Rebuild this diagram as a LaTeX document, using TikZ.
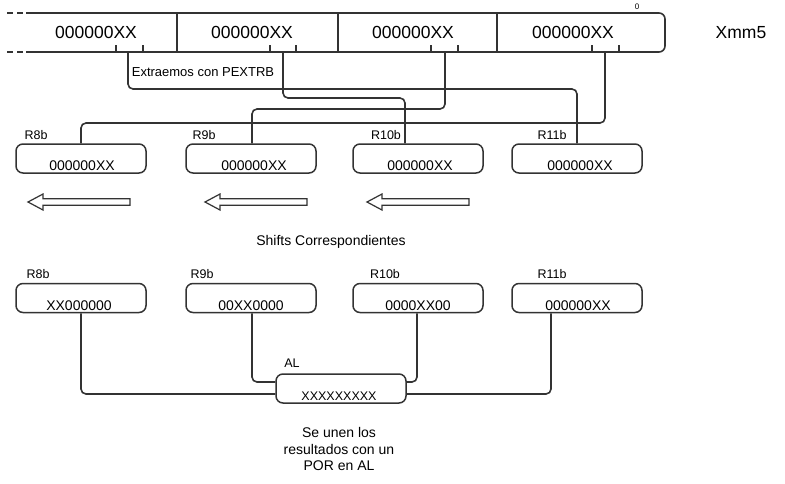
\documentclass[tikz,border=0pt]{standalone}
\usepackage{fontspec}
\setmainfont{Liberation Sans}
\usetikzlibrary{calc}
\definecolor{ink}{HTML}{333333}
\begin{document}
\begin{tikzpicture}[x=1pt,y=-1pt,
  conn/.style={draw=ink,line width=1.6pt,rounded corners=5pt},
  reg/.style={draw=ink,line width=1.6pt},
  regbox/.style={draw=ink,line width=1.5pt,rounded corners=7pt,minimum width=130pt,minimum height=29pt,inner sep=0pt},
  boxtxt/.style={font=\fontsize{14}{16}\selectfont,inner sep=0pt},
  celltxt/.style={font=\fontsize{17.5}{20}\selectfont,inner sep=0pt},
  lab/.style={font=\fontsize{12.5}{14}\selectfont,inner sep=0pt},
  note/.style={font=\fontsize{14}{16.5}\selectfont,inner sep=0pt,align=center},
  shiftarrow/.pic={\draw[draw=ink,line width=1.2pt,fill=white] (0,0) -- (15,-8) -- (15,-3.3) -- (102,-3.3) -- (102,3.3) -- (15,3.3) -- (15,8) -- cycle;},
]
\useasboundingbox (0,0) rectangle (785,483);
% Xmm5 register
\draw[reg,dash pattern=on 6pt off 4pt] (7,13) -- (23,13);
\draw[reg,dash pattern=on 6pt off 4pt] (7,52) -- (23,52);
\draw[reg,rounded corners=6pt] (26,13) -- (665,13) -- (665,52) -- (26,52);
\foreach \xx in {177,338,497} \draw[reg,line width=1.4pt] (\xx,13) -- (\xx,52);
\foreach \xx in {116,143,270,296,431,458,592,619} \draw[reg,line width=1.2pt] (\xx,45) -- (\xx,52);
\node[celltxt] (c1) at (96,32) {000000XX};
\node[celltxt] (c2) at (252,32) {000000XX};
\node[celltxt] (c3) at (413,32) {000000XX};
\node[celltxt] (c4) at (573,32) {000000XX};
\node[font=\fontsize{8}{9}\selectfont,inner sep=0pt] (zero) at (637,7) {0};
\node[celltxt] (xmm) at (741,33) {Xmm5};
\coordinate (p1) at (128,52);
\coordinate (p2) at (283,52);
\coordinate (p3) at (445,52);
\coordinate (p4) at (605,52);
\node[font=\fontsize{13}{15}\selectfont,inner sep=0pt] (ext) at (203,72) {Extraemos con PEXTRB};
% row 1 registers
\node[regbox,label={[boxtxt,xshift=1pt,yshift=-7.5pt]center:000000XX}] (a8) at (81,158.5) {};
\node[regbox,label={[boxtxt,xshift=3pt,yshift=-7.5pt]center:000000XX}] (a9) at (251,158.5) {};
\node[regbox,label={[boxtxt,xshift=2pt,yshift=-7.5pt]center:000000XX}] (a10) at (418,158.5) {};
\node[regbox,label={[boxtxt,xshift=3pt,yshift=-7.5pt]center:000000XX}] (a11) at (577,158.5) {};
\node[lab] (la8) at (36,135) {R8b};
\node[lab] (la9) at (204,135) {R9b};
\node[lab] (la10) at (386,135) {R10b};
\node[lab] (la11) at (552,135) {R11b};
% extraction connectors
\draw[conn] (p1) -- (p1 |- 0,89) -| (a11.north);
\draw[conn] (p2) -- (p2 |- 0,98) -| ([xshift=-13pt]a10.north);
\draw[conn] (p3) -- (p3 |- 0,109) -| ([xshift=1pt]a9.north);
\draw[conn] (p4) -- (p4 |- 0,123) -| (a8.north);
% shift arrows
\pic at (28,202) {shiftarrow};
\pic at (205,202) {shiftarrow};
\pic at (367,202) {shiftarrow};
\node[note] (shifts) at (331,242) {Shifts Correspondientes};
% row 2 registers
\node[regbox,label={[boxtxt,xshift=-2pt,yshift=-7.5pt]center:XX000000}] (b8) at (81,298) {};
\node[regbox,label={[boxtxt,xshift=0pt,yshift=-7.5pt]center:00XX0000}] (b9) at (251,298) {};
\node[regbox,label={[boxtxt,xshift=0pt,yshift=-7.5pt]center:0000XX00}] (b10) at (418,298) {};
\node[regbox,label={[boxtxt,xshift=1pt,yshift=-7.5pt]center:000000XX}] (b11) at (577,298) {};
\node[lab] (lb8) at (38,274) {R8b};
\node[lab] (lb9) at (202,274) {R9b};
\node[lab] (lb10) at (385,274) {R10b};
\node[lab] (lb11) at (552,274) {R11b};
% AL
\node[regbox,label={[boxtxt,font=\fontsize{12.5}{14}\selectfont,xshift=-2pt,yshift=-7.5pt]center:XXXXXXXXX}] (al) at (341,388.5) {};
\node[lab] (lal) at (292,363) {AL};
\draw[conn] (b8.south) |- ([yshift=-5.5pt]al.west);
\draw[conn] ([xshift=1pt]b9.south) |- ([yshift=6.5pt]al.west);
\draw[conn] ([xshift=-1pt]b10.south) |- ([yshift=6.5pt]al.east);
\draw[conn] ([xshift=-26pt]b11.south) |- ([yshift=-5.5pt]al.east);
\node[note] (res) at (339,449) {Se unen los\\resultados con un\\POR en AL};
\end{tikzpicture}
\end{document}
